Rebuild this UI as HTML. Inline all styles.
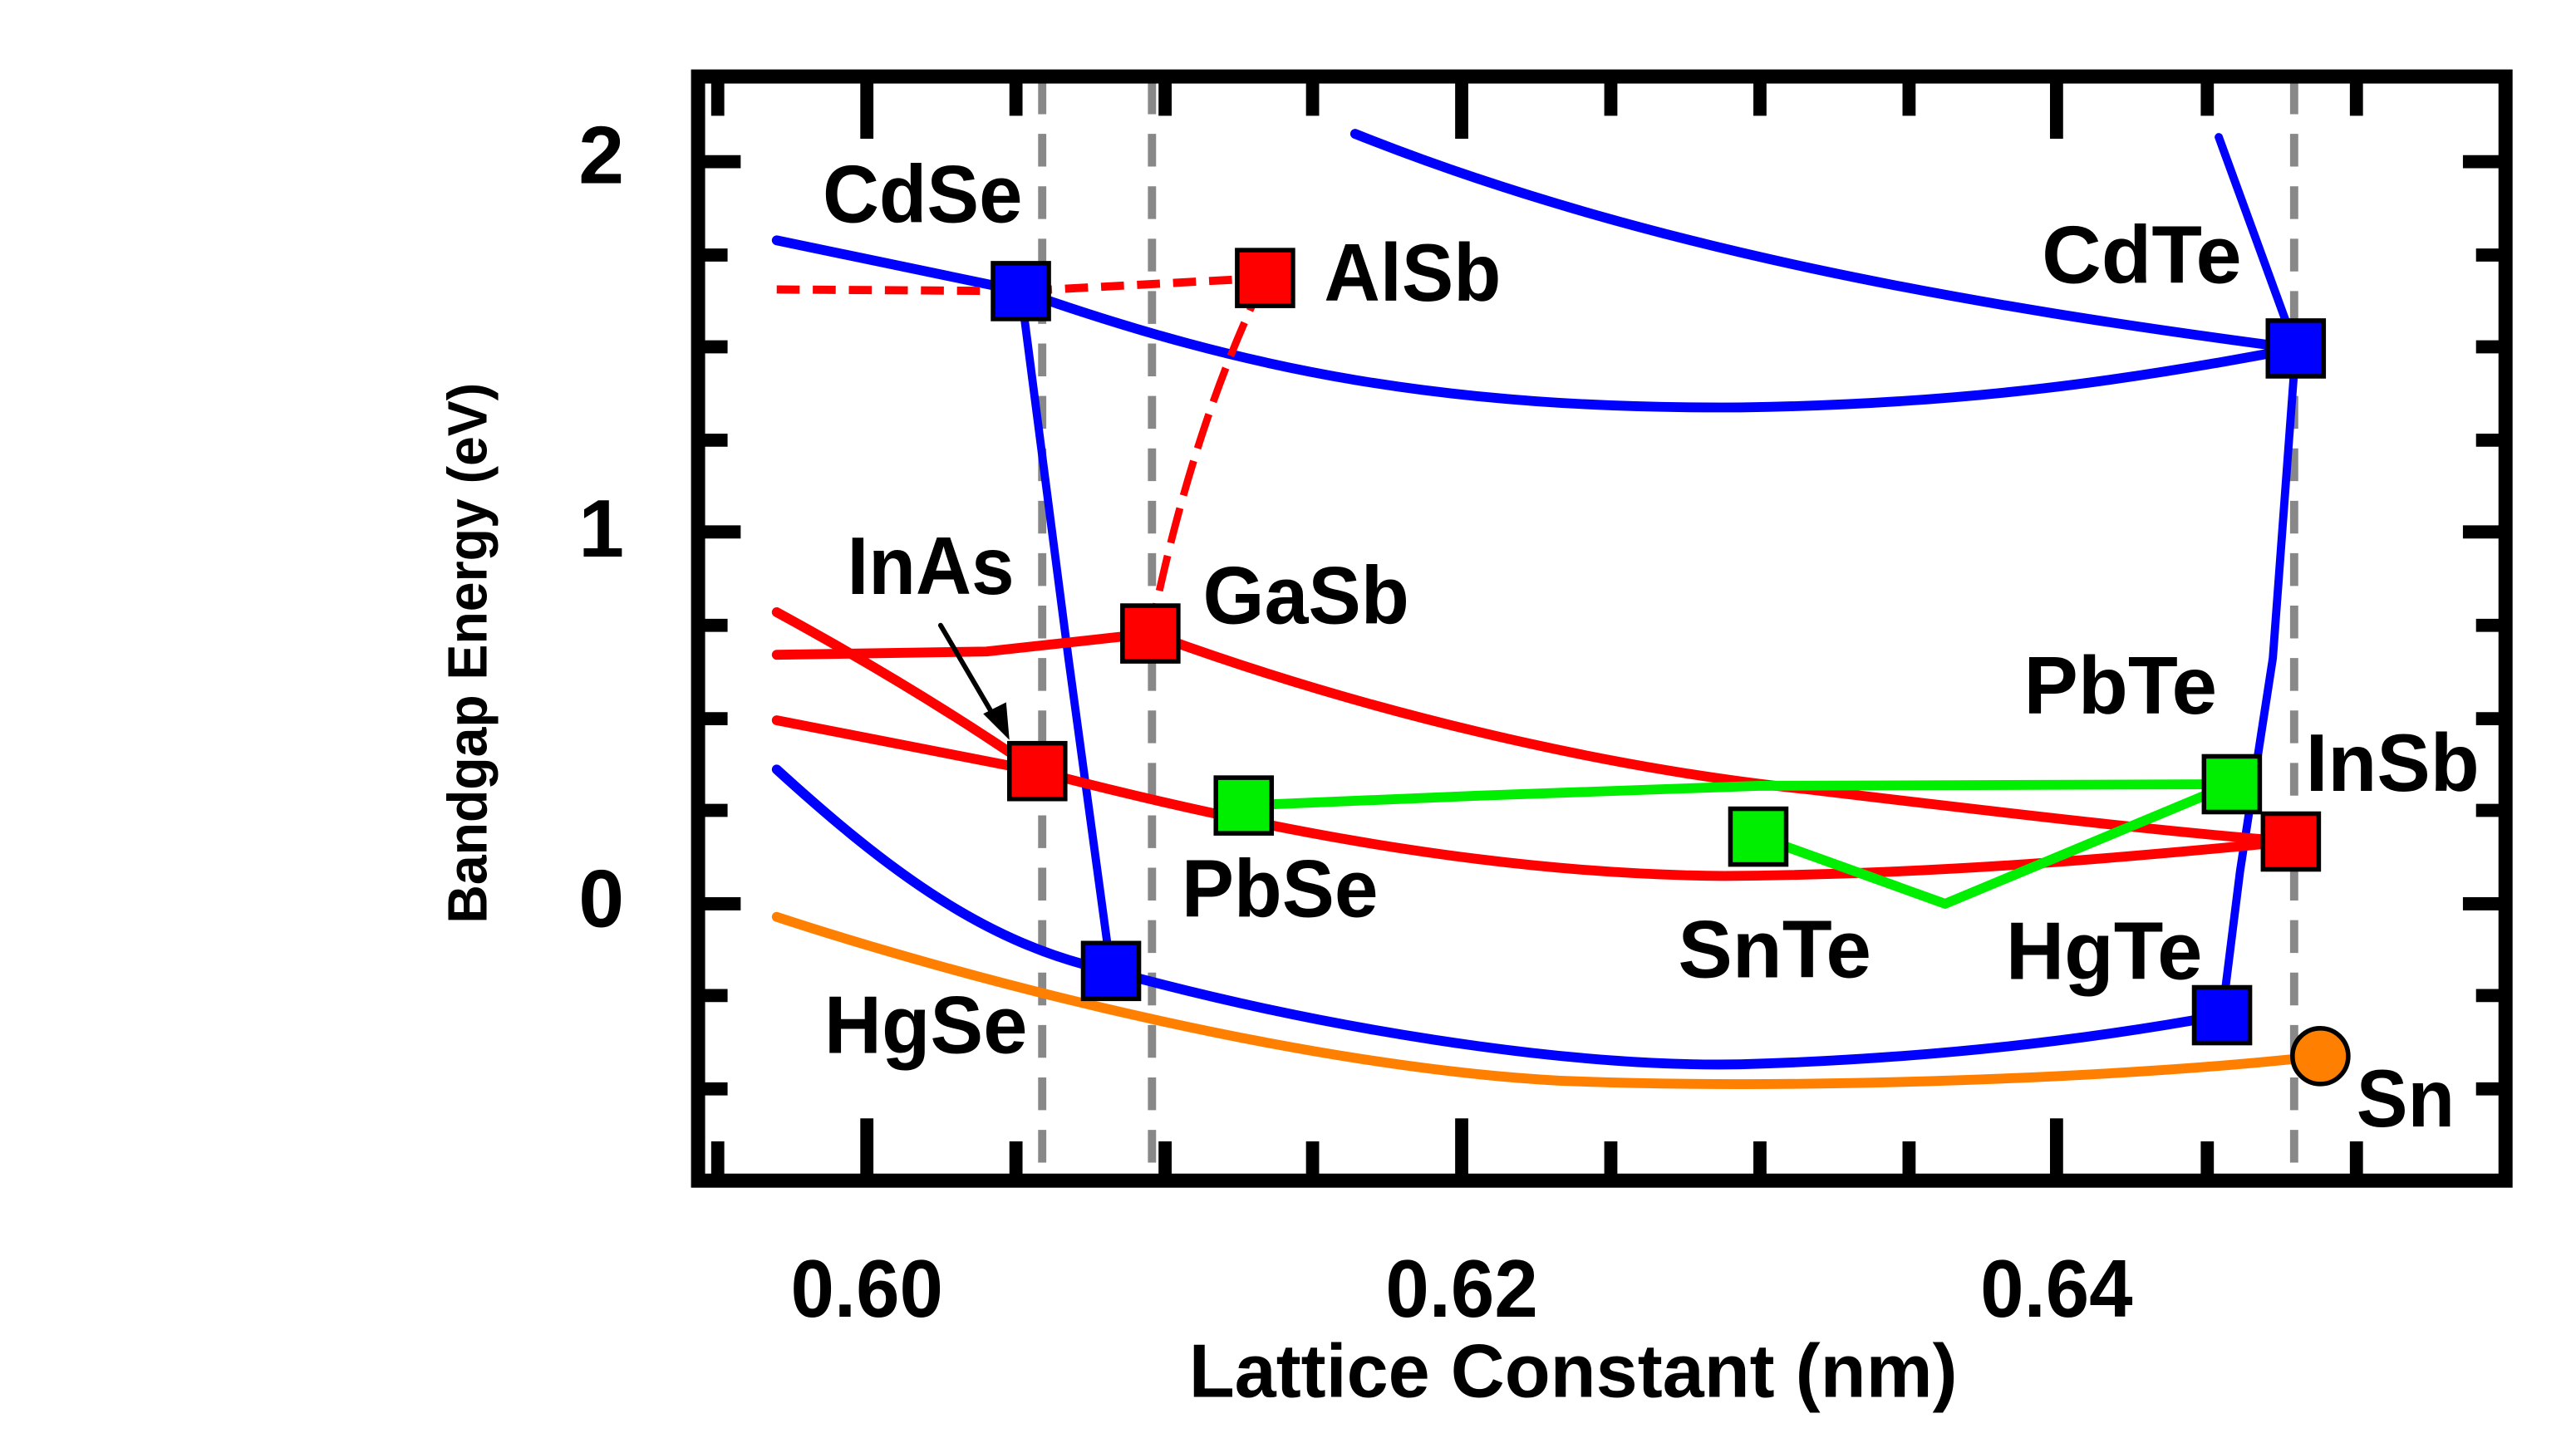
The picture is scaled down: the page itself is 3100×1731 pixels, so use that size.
<!DOCTYPE html>
<html><head><style>html,body{margin:0;padding:0;background:#fff}svg{display:block}</style></head><body>
<svg width="3100" height="1731" viewBox="-2 -1.7 1572 877.8" preserveAspectRatio="none" xmlns="http://www.w3.org/2000/svg" font-family="Liberation Sans, sans-serif" font-weight="bold">
<rect x="-2" y="-2" width="1580" height="882" fill="#fff"/>
<g stroke="#888" stroke-width="5" stroke-dasharray="20,12">
<line x1="634" y1="48" x2="634" y2="715"/><line x1="701" y1="48" x2="701" y2="715"/><line x1="1398" y1="48" x2="1398" y2="715"/>
</g>
<g fill="none" stroke-linejoin="round" stroke-linecap="round">
<path stroke="#0000ff" stroke-width="6" d="M472,145 L621,176 C760,225 880,248 1060,247 C1200,245 1300,230 1399,211"/>
<path stroke="#0000ff" stroke-width="6" d="M825,80 C1000,150 1200,185 1399,211"/>
<polyline stroke="#0000ff" stroke-width="5" points="1352,82 1399,211 1385,400 1365,530 1354,618"/>
<polyline stroke="#0000ff" stroke-width="5" points="621,176 650,400 676,591"/>
<path stroke="#0000ff" stroke-width="6" d="M472,468 C540,530 600,575 676,591 C800,625 950,650 1060,648 C1200,644 1300,628 1354,618"/>
<path stroke="#ff8000" stroke-width="6" d="M472,558 C600,600 800,650 950,658 C1100,664 1300,656 1414,643"/>
<polyline stroke="#ff0000" stroke-width="5" stroke-dasharray="14,8" stroke-linecap="butt" points="472,175 621,176 770,168"/>
<path stroke="#ff0000" stroke-width="4.5" stroke-dasharray="22,8" stroke-linecap="butt" d="M770,168 Q725,260 700,385"/>
<path stroke="#ff0000" stroke-width="6" d="M472,398 L600,396 L700,385 C850,440 1000,470 1100,480 C1250,498 1330,507 1396,512"/>
<path stroke="#ff0000" stroke-width="6" d="M472,438 L631,469 C750,500 900,532 1050,533 C1200,532 1330,518 1396,512"/>
<path stroke="#ff0000" stroke-width="6" d="M472,372 Q560,420 631,469"/>
<polyline stroke="#00ee00" stroke-width="6" points="757,490 900,484 1071,478 1360,477"/>
<polyline stroke="#00ee00" stroke-width="6" points="1071,509 1185,550 1360,477"/>
<line x1="572" y1="380" x2="606" y2="438" stroke="#000" stroke-width="3"/>
</g>
<polygon points="614,450 598,434 612,427" fill="#000"/>
<g stroke="#000" stroke-width="2.8">
<rect x="604" y="159" width="34" height="34" fill="#0000ff"/>
<rect x="753" y="151" width="34" height="34" fill="#ff0000"/>
<rect x="1382" y="194" width="34" height="34" fill="#0000ff"/>
<rect x="683" y="368" width="34" height="34" fill="#ff0000"/>
<rect x="614" y="452" width="34" height="34" fill="#ff0000"/>
<rect x="740" y="473" width="34" height="34" fill="#00ee00"/>
<rect x="1054" y="492" width="34" height="34" fill="#00ee00"/>
<rect x="1343" y="460" width="34" height="34" fill="#00ee00"/>
<rect x="1379" y="495" width="34" height="34" fill="#ff0000"/>
<rect x="659" y="574" width="34" height="34" fill="#0000ff"/>
<rect x="1337" y="601" width="34" height="34" fill="#0000ff"/>
<circle cx="1414" cy="643" r="17" fill="#ff8000"/>
</g>
<rect x="424" y="45" width="1103" height="674" fill="none" stroke="#000" stroke-width="8.6"/>
<g stroke="#000" stroke-width="8">
<path d="M424,97h26M424,154h18M424,210h18M424,267h18M424,323h26M424,380h18M424,437h18M424,493h18M424,550h26M424,606h18M424,663h18"/>
<path d="M1527,97h-26M1527,154h-18M1527,210h-18M1527,267h-18M1527,323h-26M1527,380h-18M1527,437h-18M1527,493h-18M1527,550h-26M1527,606h-18M1527,663h-18"/>
<path d="M527,719v-38M618,719v-24M709,719v-24M799,719v-24M890,719v-38M981,719v-24M1072,719v-24M1163,719v-24M1253,719v-38M1345,719v-24M1436,719v-24M436,719v-24"/>
<path d="M527,45v38M618,45v24M709,45v24M799,45v24M890,45v38M981,45v24M1072,45v24M1163,45v24M1253,45v38M1345,45v24M1436,45v24M436,45v24"/>
</g>
<g font-size="50" fill="#000">
<text x="500" y="134" textLength="122" lengthAdjust="spacingAndGlyphs">CdSe</text>
<text x="806" y="182" textLength="108" lengthAdjust="spacingAndGlyphs">AlSb</text>
<text x="1244" y="171" textLength="122" lengthAdjust="spacingAndGlyphs">CdTe</text>
<text x="515" y="361" textLength="102" lengthAdjust="spacingAndGlyphs">InAs</text>
<text x="732" y="379" textLength="126" lengthAdjust="spacingAndGlyphs">GaSb</text>
<text x="1233" y="434" textLength="118" lengthAdjust="spacingAndGlyphs">PbTe</text>
<text x="1405" y="481" textLength="106" lengthAdjust="spacingAndGlyphs">InSb</text>
<text x="719" y="558" textLength="120" lengthAdjust="spacingAndGlyphs">PbSe</text>
<text x="1022" y="595" textLength="118" lengthAdjust="spacingAndGlyphs">SnTe</text>
<text x="1222" y="596" textLength="120" lengthAdjust="spacingAndGlyphs">HgTe</text>
<text x="501" y="641" textLength="124" lengthAdjust="spacingAndGlyphs">HgSe</text>
<text x="1436" y="686" textLength="60" lengthAdjust="spacingAndGlyphs">Sn</text>
</g>
<g font-size="50" fill="#000" text-anchor="middle">
<text x="365" y="110">2</text><text x="365" y="338">1</text><text x="365" y="564">0</text>
<text x="527" y="802" textLength="93" lengthAdjust="spacingAndGlyphs">0.60</text>
<text x="890" y="802" textLength="93" lengthAdjust="spacingAndGlyphs">0.62</text>
<text x="1253" y="802" textLength="93" lengthAdjust="spacingAndGlyphs">0.64</text>
<text x="958" y="851" font-size="46" textLength="469" lengthAdjust="spacingAndGlyphs">Lattice Constant (nm)</text>
<text transform="translate(295,397) rotate(-90)" font-size="34" textLength="330" lengthAdjust="spacingAndGlyphs">Bandgap Energy (eV)</text>
</g>
</svg>
</body></html>
